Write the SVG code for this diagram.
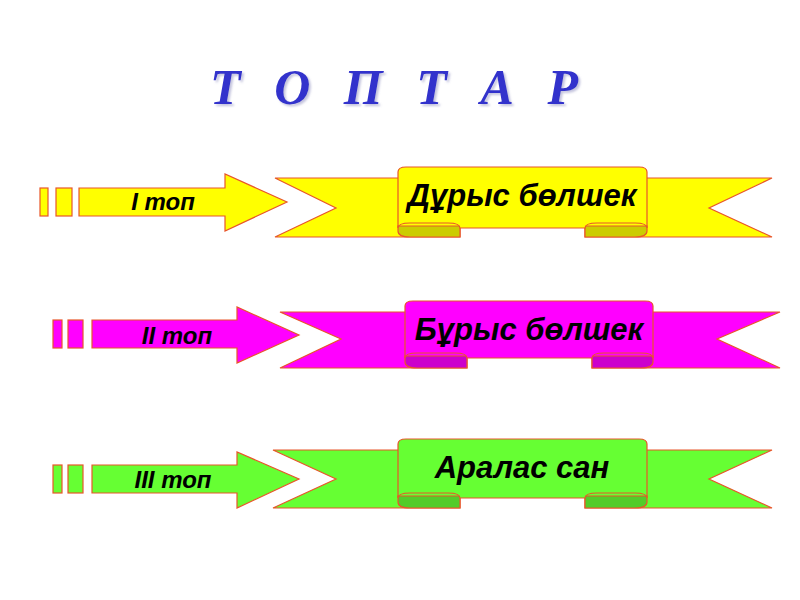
<svg xmlns="http://www.w3.org/2000/svg" width="800" height="600" viewBox="0 0 800 600">
<style>
.s{stroke:#E8562A;stroke-width:1.2;stroke-linejoin:miter}
.y{fill:#FFFF00}.yd{fill:#CCCC00}
.m{fill:#FF00FF}.md{fill:#CC00CC}
.g{fill:#66FF33}.gd{fill:#52CC29}
.lbl{font-family:"Liberation Sans",Arial,sans-serif;font-weight:bold;font-style:italic;fill:#000;text-anchor:middle}
.ttl{font-family:"Liberation Serif","Times New Roman",serif;font-weight:bold;font-style:italic;font-size:50px}
</style>
<defs>
<filter id="sh" x="-5%" y="-20%" width="110%" height="150%">
<feDropShadow dx="2" dy="2" stdDeviation="1" flood-color="#8888bb" flood-opacity="0.5"/>
</filter>
</defs>
<rect width="800" height="600" fill="#fff"/>
<g id="title" filter="url(#sh)">
<text class="ttl" x="210" y="104" textLength="368" lengthAdjust="spacing" fill="#3333CC">Т О П Т А Р</text>
</g>
<g id="connectors"/>
<g id="row1">
<rect class="s y" x="40" y="188" width="8" height="28"/>
<rect class="s y" x="56" y="188" width="16" height="28"/>
<path class="s y" d="M79,188 L225,188 L225,174 L287,202 L225,231 L225,216 L79,216 Z"/>
<text class="lbl" x="163" y="210" font-size="24">I топ</text>
<path class="s y" d="M275,178 L460,178 L460,237 L275,237 L336,208 Z"/>
<path class="s y" d="M772,178 L585,178 L585,237 L772,237 L709,208 Z"/>
<path class="s yd" d="M398,226 L398,231 Q398,237 410,237 L460,237 L460,226 Z"/>
<path class="s yd" d="M647,226 L647,231 Q647,237 635,237 L585,237 L585,226 Z"/>
<path class="s y" d="M398,228 L398,172 Q398,167 406,167 L639,167 Q647,167 647,172 L647,228 Q647,223 635,223 L597,223 Q585,223 585,228 L460,228 Q460,223 448,223 L410,223 Q398,223 398,228 Z"/>
<text class="lbl" x="522" y="206" font-size="31">Дұрыс бөлшек</text>
</g>
<g id="row2">
<rect class="s m" x="53" y="320" width="9" height="28"/>
<rect class="s m" x="68" y="320" width="15" height="28"/>
<path class="s m" d="M92,320 L237,320 L237,307 L299,335 L237,363 L237,348 L92,348 Z"/>
<text class="lbl" x="177" y="344" font-size="24">II топ</text>
<path class="s m" d="M280,312 L467,312 L467,368 L280,368 L341,339 Z"/>
<path class="s m" d="M780,312 L592,312 L592,368 L780,368 L717,339 Z"/>
<path class="s md" d="M405,356 L405,362 Q405,368 417,368 L467,368 L467,356 Z"/>
<path class="s md" d="M653,356 L653,362 Q653,368 641,368 L592,368 L592,356 Z"/>
<path class="s m" d="M405,358 L405,306 Q405,301 413,301 L645,301 Q653,301 653,306 L653,358 Q653,353 641,353 L604,353 Q592,353 592,358 L467,358 Q467,353 455,353 L417,353 Q405,353 405,358 Z"/>
<text class="lbl" x="529" y="340" font-size="31">Бұрыс бөлшек</text>
</g>
<g id="row3">
<rect class="s g" x="53" y="465" width="9" height="28"/>
<rect class="s g" x="68" y="465" width="15" height="28"/>
<path class="s g" d="M92,465 L237,465 L237,452 L299,479 L237,508 L237,493 L92,493 Z"/>
<text class="lbl" x="173" y="488" font-size="24">III топ</text>
<path class="s g" d="M273,450 L460,450 L460,508 L273,508 L336,479 Z"/>
<path class="s g" d="M772,450 L585,450 L585,508 L772,508 L709,479 Z"/>
<path class="s gd" d="M398,496 L398,502 Q398,508 410,508 L460,508 L460,496 Z"/>
<path class="s gd" d="M647,496 L647,502 Q647,508 635,508 L585,508 L585,496 Z"/>
<path class="s g" d="M398,498 L398,444 Q398,439 406,439 L639,439 Q647,439 647,444 L647,498 Q647,493 635,493 L597,493 Q585,493 585,498 L460,498 Q460,493 448,493 L410,493 Q398,493 398,498 Z"/>
<text class="lbl" x="522" y="478" font-size="31">Аралас сан</text>
</g>
</svg>
